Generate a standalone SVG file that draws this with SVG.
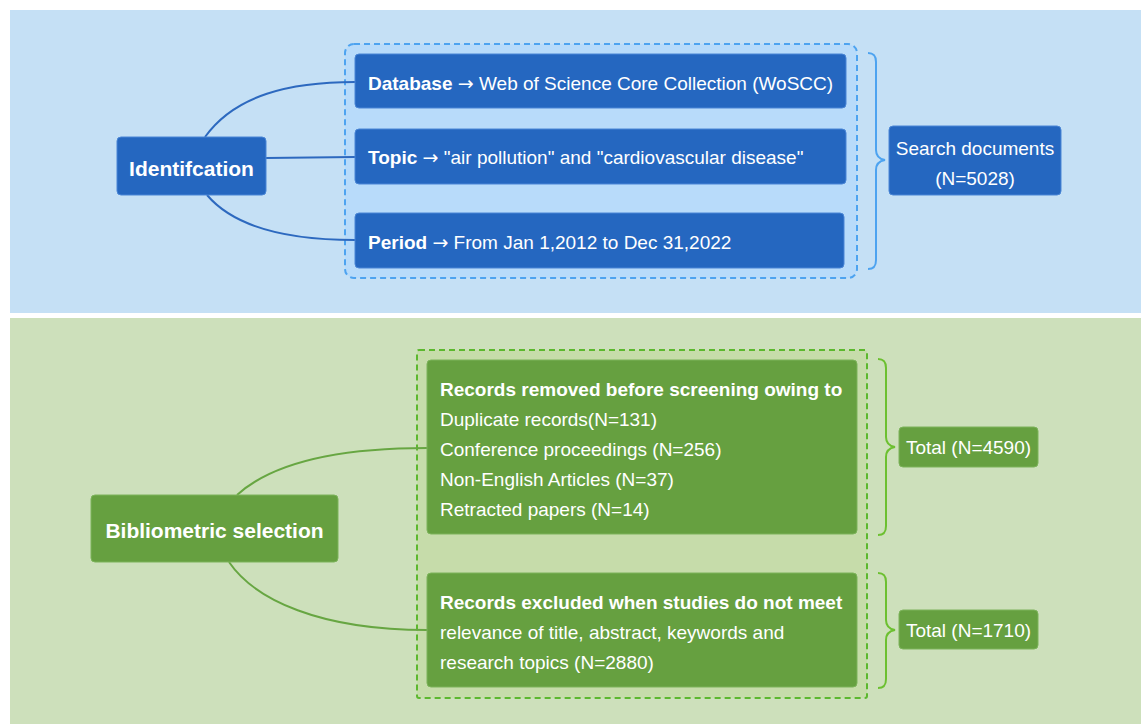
<svg xmlns="http://www.w3.org/2000/svg" width="1141" height="724" viewBox="0 0 1141 724">
<style>
text{font-family:"Liberation Sans",Arial,sans-serif;fill:#ffffff}
.t{font-size:19px}
.b{font-weight:bold}
.ar{font-family:"DejaVu Sans",sans-serif}
.h{font-size:21px;font-weight:bold}
.bbox{fill:#2567c0;stroke:#4a86d6;stroke-width:1}
.gbox{fill:#66a040;stroke:#7cb35a;stroke-width:1}
.bcon{fill:none;stroke:#2d69bf;stroke-width:2}
.gcon{fill:none;stroke:#67a642;stroke-width:2}
</style>
<rect x="0" y="0" width="1141" height="724" fill="#ffffff"/>
<rect id="panel-identification" x="10" y="10" width="1131" height="303" fill="#c5e0f5"/>
<rect id="panel-selection" x="10" y="318" width="1131" height="406" fill="#cde0bb"/>
<rect id="group-blue" x="345" y="44" width="512" height="234" rx="9" fill="#b8dbfa" stroke="#4da3f0" stroke-width="2" stroke-dasharray="6,4"/>
<rect id="group-green" x="417" y="350" width="450" height="348" rx="2" fill="#c6dcaa" stroke="#5cb82e" stroke-width="2" stroke-dasharray="6,4"/>
<g id="connectors">
<path class="bcon" d="M205,137 C235,95 290,82 355,82"/>
<path class="bcon" d="M266,158 L355,157"/>
<path class="bcon" d="M207,195 C235,228 290,240 355,240"/>
<path class="gcon" d="M237,495 C270,465 330,448 427,448"/>
<path class="gcon" d="M229,562 C255,600 320,630 427,630"/>
<path fill="none" stroke="#4da3f0" stroke-width="2" d="M868,53 C874,53 876,56 876,62 L876,150 C876,156 879,159 885,160 C879,161 876,164 876,170 L876,260 C876,266 874,269 868,269"/>
<path fill="none" stroke="#6cc030" stroke-width="2" d="M878,359 C884,359 886,362 886,368 L886,437 C886,443 889,446 895,447 C889,448 886,451 886,457 L886,526 C886,532 884,535 878,535"/>
<path fill="none" stroke="#6cc030" stroke-width="2" d="M878,573 C884,573 886,576 886,582 L886,620 C886,626 889,629 895,630 C889,631 886,634 886,640 L886,679 C886,685 884,688 878,688"/>
</g>
<g id="identification">
<rect class="bbox" x="117" y="137" width="149" height="58" rx="4"/>
<text class="h" x="191.5" y="175.5" text-anchor="middle">Identifcation</text>
</g>
<g id="database">
<rect class="bbox" x="355" y="54" width="491" height="54" rx="4"/>
<text class="t" x="368" y="89.5"><tspan class="b">Database</tspan> <tspan class="ar">→</tspan> Web of Science Core Collection (WoSCC)</text>
</g>
<g id="topic">
<rect class="bbox" x="355" y="129" width="491" height="55" rx="4"/>
<text class="t" x="368" y="163.5"><tspan class="b">Topic</tspan> <tspan class="ar">→</tspan> "air pollution" and "cardiovascular disease"</text>
</g>
<g id="period">
<rect class="bbox" x="355" y="213" width="489" height="55" rx="4"/>
<text class="t" x="368" y="248.5"><tspan class="b">Period</tspan> <tspan class="ar">→</tspan> From Jan 1,2012 to Dec 31,2022</text>
</g>
<g id="search-documents">
<rect class="bbox" x="889" y="126" width="172" height="69" rx="4"/>
<text class="t" x="975" y="154.5" text-anchor="middle">Search documents</text>
<text class="t" x="975" y="184.5" text-anchor="middle">(N=5028)</text>
</g>
<g id="bibliometric-selection">
<rect class="gbox" x="91" y="495" width="247" height="67" rx="4"/>
<text class="h" x="214.5" y="537.5" text-anchor="middle">Bibliometric selection</text>
</g>
<g id="records-removed">
<rect class="gbox" x="427" y="360" width="430" height="174" rx="4"/>
<text class="t b" x="440" y="395.5">Records removed before screening owing to</text>
<text class="t" x="440" y="425.5">Duplicate records(N=131)</text>
<text class="t" x="440" y="455.5">Conference proceedings (N=256)</text>
<text class="t" x="440" y="485.5">Non-English Articles (N=37)</text>
<text class="t" x="440" y="515.5">Retracted papers (N=14)</text>
</g>
<g id="records-excluded">
<rect class="gbox" x="427" y="573" width="430" height="114" rx="4"/>
<text class="t b" x="440" y="608.5">Records excluded when studies do not meet</text>
<text class="t" x="440" y="638.5">relevance of title, abstract, keywords and</text>
<text class="t" x="440" y="668.5">research topics (N=2880)</text>
</g>
<g id="total-4590">
<rect class="gbox" x="899" y="427" width="139" height="40" rx="4"/>
<text class="t" x="968.5" y="453.5" text-anchor="middle">Total (N=4590)</text>
</g>
<g id="total-1710">
<rect class="gbox" x="899" y="610" width="139" height="39" rx="4"/>
<text class="t" x="968.5" y="636.5" text-anchor="middle">Total (N=1710)</text>
</g>
</svg>
